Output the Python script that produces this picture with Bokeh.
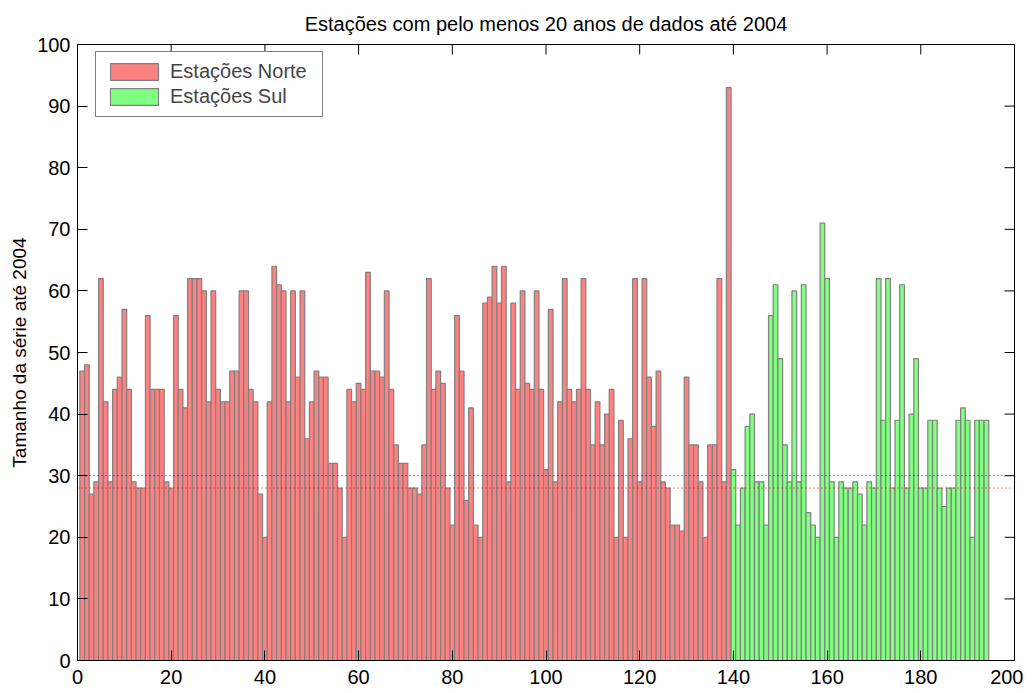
import math
from bokeh.plotting import figure
from bokeh.models import Range1d, Span, FixedTicker
from bokeh.embed import file_html
from bokeh.resources import INLINE

# ---- data ----
norte = [47, 48, 27, 29, 62, 42, 29, 44, 46, 57,
         44, 29, 28, 28, 56, 44, 44, 44, 29, 28,
         56, 44, 41, 62, 62, 62, 60, 42, 60, 44,
         42, 42, 47, 47, 60, 60, 44, 42, 27, 20,
         42, 64, 61, 60, 42, 60, 46, 60, 36, 42,
         47, 46, 46, 32, 32, 28, 20, 44, 42, 45,
         44, 63, 47, 47, 46, 60, 44, 35, 32, 32,
         28, 28, 27, 35, 62, 44, 47, 45, 28, 22,
         56, 47, 26, 41, 22, 20, 58, 59, 64, 58,
         64, 29, 58, 44, 60, 45, 44, 60, 44, 31,
         57, 29, 42, 62, 44, 42, 44, 62, 44, 35,
         42, 35, 40, 44, 20, 39, 20, 36, 62, 29,
         62, 46, 38, 47, 29, 28, 22, 22, 21, 46,
         35, 35, 29, 20, 35, 35, 62, 29, 93]
sul = [31, 22, 28, 38, 40, 29, 29, 22, 56, 61,
       49, 35, 29, 60, 29, 61, 24, 22, 20, 71,
       62, 29, 20, 29, 28, 28, 29, 27, 22, 29,
       28, 62, 39, 62, 28, 39, 61, 28, 40, 49,
       28, 28, 39, 39, 28, 25, 28, 28, 39, 41,
       39, 20, 39, 39, 39]
norte_label = "Estações Norte"
sul_label = "Estações Sul"
title_text = "Estações com pelo menos 20 anos de dados até 2004"
y_label = "Tamanho da série até 2004"
x_ticks = list(range(0, 201, 20))
y_ticks = list(range(0, 101, 10))
x_lim = (0, 200)
y_lim = (0, 100)
ref_blue = 30
ref_red = 28

norte_x = list(range(1, len(norte) + 1))
sul_x = list(range(len(norte) + 1, len(norte) + len(sul) + 1))

FONT = "Liberation Sans"
FS = "20px"

p = figure(width=1023, height=691,
           x_range=Range1d(*x_lim), y_range=Range1d(*y_lim),
           output_backend="svg", toolbar_location=None,
           min_border_left=77, min_border_right=9,
           min_border_top=41, min_border_bottom=31)
p.background_fill_color = "white"
p.border_fill_color = "white"
p.outline_line_color = "black"
p.grid.visible = False

p.title.text = title_text
p.title.align = "center"
p.title.text_font = FONT
p.title.text_font_size = FS
p.title.text_font_style = "normal"
p.title.text_color = "black"
p.title.standoff = 20

p.vbar(x=norte_x, top=norte, width=1, bottom=0,
       fill_color="#ff8080", line_color="#808080", line_width=1.2,
       legend_label=norte_label)
p.vbar(x=sul_x, top=sul, width=1, bottom=0,
       fill_color="#80ff80", line_color="#808080", line_width=1.2,
       legend_label=sul_label)

p.add_layout(Span(location=ref_blue, dimension="width", line_color="blue",
                  line_dash="1 3", line_width=1))
p.add_layout(Span(location=ref_red, dimension="width", line_color="red",
                  line_dash="1 3", line_width=1))

# inward tick marks on top and right edges (box style)
p.ray(x=x_ticks, y=[y_lim[1]] * len(x_ticks), length=10, length_units="screen",
      angle=-math.pi / 2, line_color="black", line_width=1)
p.ray(x=[x_lim[1]] * len(y_ticks), y=y_ticks, length=10, length_units="screen",
      angle=math.pi, line_color="black", line_width=1)

def style_axis(ax, ticks, standoff):
    ax.ticker = FixedTicker(ticks=ticks)
    ax.major_tick_in = 10
    ax.major_tick_out = 0
    ax.minor_tick_line_color = None
    ax.axis_line_color = "black"
    ax.major_tick_line_color = "black"
    ax.major_label_text_font = FONT
    ax.major_label_text_color = "black"
    ax.major_label_text_font_size = FS
    ax.major_label_standoff = standoff

style_axis(p.xaxis[0], x_ticks, 9)
style_axis(p.yaxis[0], y_ticks, 7)
p.yaxis.axis_label = y_label
p.yaxis.axis_label_text_font = FONT
p.yaxis.axis_label_text_font_size = "19px"
p.yaxis.axis_label_text_font_style = "normal"
p.yaxis.axis_label_text_color = "black"
p.yaxis.axis_label_standoff = 4

lg = p.legend[0]
lg.location = (18, 543)
lg.padding = 8
lg.spacing = 2
lg.glyph_width = 60
lg.glyph_height = 21
lg.label_height = 21
lg.label_width = 144
lg.label_standoff = 6
lg.label_text_font = FONT
lg.label_text_font_size = FS
lg.border_line_color = "black"
lg.border_line_width = 1
lg.background_fill_color = "white"
lg.background_fill_alpha = 1

open("out.html", "w").write(file_html(p, INLINE))
